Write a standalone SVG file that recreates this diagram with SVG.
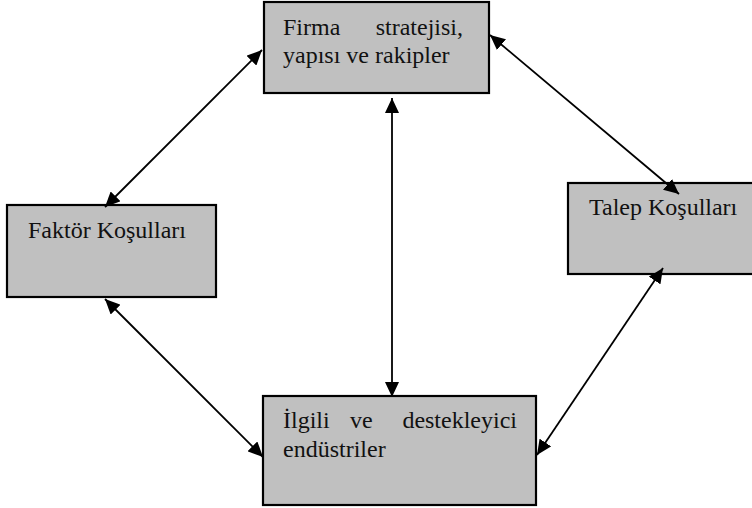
<svg xmlns="http://www.w3.org/2000/svg" width="752" height="508" viewBox="0 0 752 508">
<defs>
<marker id="ah" markerUnits="userSpaceOnUse" markerWidth="15" markerHeight="14" viewBox="0 0 15 14" refX="15" refY="7" orient="auto-start-reverse">
<path d="M0,0 L15,7 L0,14 Z" fill="#000"/>
</marker>
<style>
.box{fill:#c0c0c0;stroke:#000;stroke-width:2.2}
.t{font-family:"Liberation Serif","Times New Roman",serif;font-size:24px;fill:#111}
.c{stroke:#000;stroke-width:1.8;fill:none;marker-start:url(#ah);marker-end:url(#ah)}
</style>
</defs>
<rect width="752" height="508" fill="#fff"/>
<g id="firma">
<rect class="box" x="264" y="2" width="225" height="91"/>
<text class="t" x="283" y="35">Firma</text>
<text class="t" x="463" y="35" text-anchor="end">stratejisi,</text>
<text class="t" x="283" y="63">yapısı ve rakipler</text>
</g>
<g id="faktor">
<rect class="box" x="7" y="205" width="209" height="92"/>
<text class="t" x="28" y="238">Faktör Koşulları</text>
</g>
<g id="talep">
<rect class="box" x="568" y="183" width="200" height="91"/>
<text class="t" x="589" y="215">Talep Koşulları</text>
</g>
<g id="ilgili">
<rect class="box" x="263" y="396" width="273" height="109"/>
<text class="t" x="283" y="428">İlgili</text>
<text class="t" x="350" y="428">ve</text>
<text class="t" x="517" y="428" text-anchor="end">destekleyici</text>
<text class="t" x="283" y="457">endüstriler</text>
</g>
<g id="connectors">
<line class="c" x1="262" y1="50" x2="105" y2="207"/>
<line class="c" x1="490" y1="35" x2="679" y2="194"/>
<line class="c" x1="105" y1="299" x2="263" y2="457"/>
<line class="c" x1="663" y1="268" x2="537" y2="455"/>
<line class="c" x1="392" y1="98" x2="392" y2="397"/>
</g>
</svg>
